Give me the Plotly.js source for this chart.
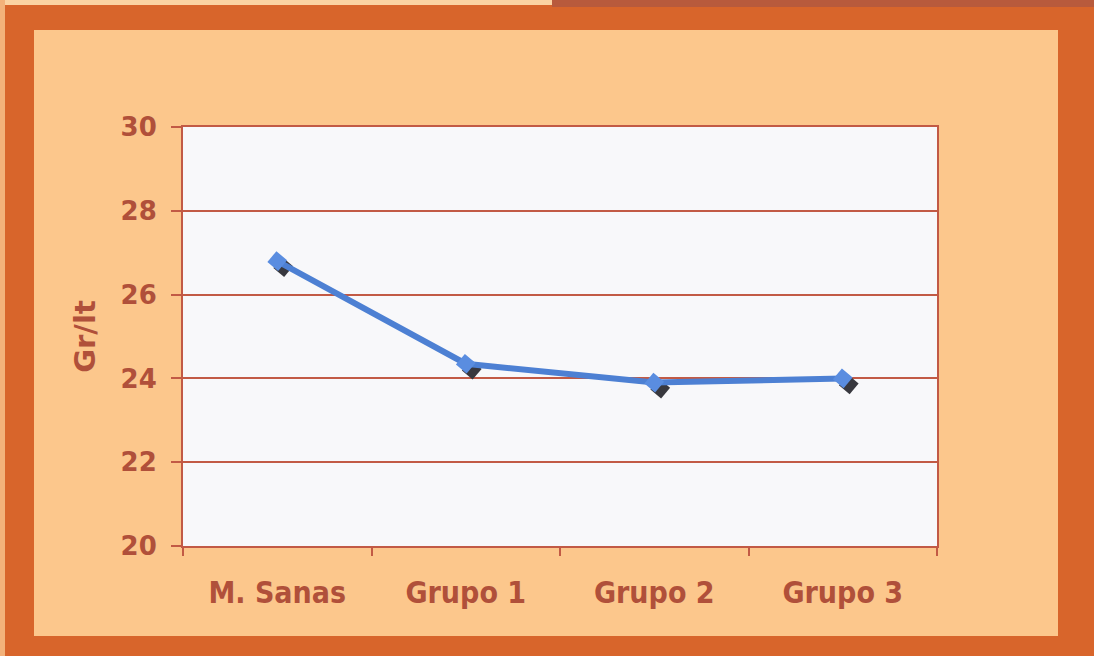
<!DOCTYPE html>
<html>
<head>
<meta charset="utf-8">
<script src="https://cdn.plot.ly/plotly-3.0.1.min.js"></script>
<style>
  html, body { margin: 0; padding: 0; width: 1094px; height: 656px; overflow: hidden; background: #d8652b; }
  #stripL { position: absolute; left: 0; top: 0; width: 552px; height: 5px; background: #fbd3a2; }
  #stripL2 { position: absolute; left: 0; top: 0; width: 5px; height: 656px; background: #f3b27a; }
  #stripR { position: absolute; left: 552px; top: 0; width: 542px; height: 7px; background: #b85a3c; }
  #chart { position: absolute; left: 34px; top: 30px; width: 1024px; height: 606px; }
</style>
</head>
<body>
<div id="stripL"></div>
<div id="stripL2"></div>
<div id="stripR"></div>
<div id="chart"></div>
<script>
const categories = ["M. Sanas", "Grupo 1", "Grupo 2", "Grupo 3"];
const values = [26.8, 24.35, 23.9, 24.0];
const yTicks = [20, 22, 24, 26, 28, 30];
const yTitle = "Gr/lt";

const textColor = "#b0503a";
const gridColor = "#c25a45";
const plotW = 754, plotH = 419;
const yRange = [20, 30];
const xRange = [-0.5, categories.length - 0.5];
// shadow offset in pixels, converted through the axis scales
const sdx = 6, sdy = 6;
const xSpan = xRange[1] - xRange[0];
const ySpan = yRange[1] - yRange[0];
const x2Range = [xRange[0] - sdx / plotW * xSpan, xRange[1] - sdx / plotW * xSpan];
const y2Range = [yRange[0] + sdy / plotH * ySpan, yRange[1] + sdy / plotH * ySpan];

const traces = [
  { x: categories, y: values, type: "scatter", mode: "none", xaxis: "x", yaxis: "y", showlegend: false, hoverinfo: "skip" },
  { x: categories, y: values, type: "scatter", mode: "markers", xaxis: "x2", yaxis: "y2", showlegend: false,
    marker: { symbol: "square", size: 14, angle: 40, color: "#38383e", line: { width: 0 } }, cliponaxis: false },
  { x: categories, y: values, type: "scatter", mode: "lines+markers", xaxis: "x3", yaxis: "y3", showlegend: false,
    line: { color: "#4d80d3", width: 6 },
    marker: { symbol: "square", size: 14, angle: 40, color: "#5a8de0", line: { width: 0 } }, cliponaxis: false }
];

const layout = {
  width: 1024, height: 606,
  margin: { l: 149, r: 121, t: 97, b: 90, pad: 0 },
  paper_bgcolor: "#fcc78c",
  plot_bgcolor: "rgba(0,0,0,0)",
  showlegend: false,
  shapes: [
    { type: "rect", xref: "x domain", yref: "y domain", x0: 0, x1: 1, y0: 0, y1: 1,
      fillcolor: "#f8f8fa", line: { width: 0 }, layer: "below" }
  ],
  xaxis: {
    type: "category", categoryarray: categories, categoryorder: "array",
    range: xRange, fixedrange: true,
    showgrid: false, zeroline: false,
    showline: true, linecolor: gridColor, linewidth: 2, mirror: true,
    ticks: "outside", tickson: "boundaries", ticklen: 8, tickwidth: 2, tickcolor: gridColor,
    tickfont: { family: "DejaVu Sans Condensed, Liberation Sans, sans-serif", size: 30, color: textColor, weight: "bold" },
    ticklabelstandoff: 19
  },
  yaxis: {
    range: yRange, fixedrange: true,
    tickvals: yTicks, ticktext: yTicks.map(String),
    showgrid: true, gridcolor: gridColor, gridwidth: 2, zeroline: false,
    showline: true, linecolor: gridColor, linewidth: 2, mirror: true,
    ticks: "outside", ticklen: 10, tickwidth: 2, tickcolor: gridColor,
    tickfont: { family: "DejaVu Sans, Verdana, sans-serif", size: 26, color: textColor, weight: "bold" },
    ticklabelstandoff: 9,
    title: { text: yTitle, font: { family: "DejaVu Sans, Verdana, sans-serif", size: 29, color: textColor, weight: "bold" }, standoff: 16 }
  },
  xaxis2: { type: "category", categoryarray: categories, categoryorder: "array", range: x2Range, visible: false, anchor: "y2", domain: [0, 1], fixedrange: true },
  yaxis2: { range: y2Range, visible: false, anchor: "x2", domain: [0, 1], fixedrange: true },
  xaxis3: { type: "category", categoryarray: categories, categoryorder: "array", range: xRange, visible: false, anchor: "y3", domain: [0, 1], fixedrange: true },
  yaxis3: { range: yRange, visible: false, anchor: "x3", domain: [0, 1], fixedrange: true }
};

Plotly.newPlot("chart", traces, layout, { displayModeBar: false, staticPlot: true });
</script>
</body>
</html>
